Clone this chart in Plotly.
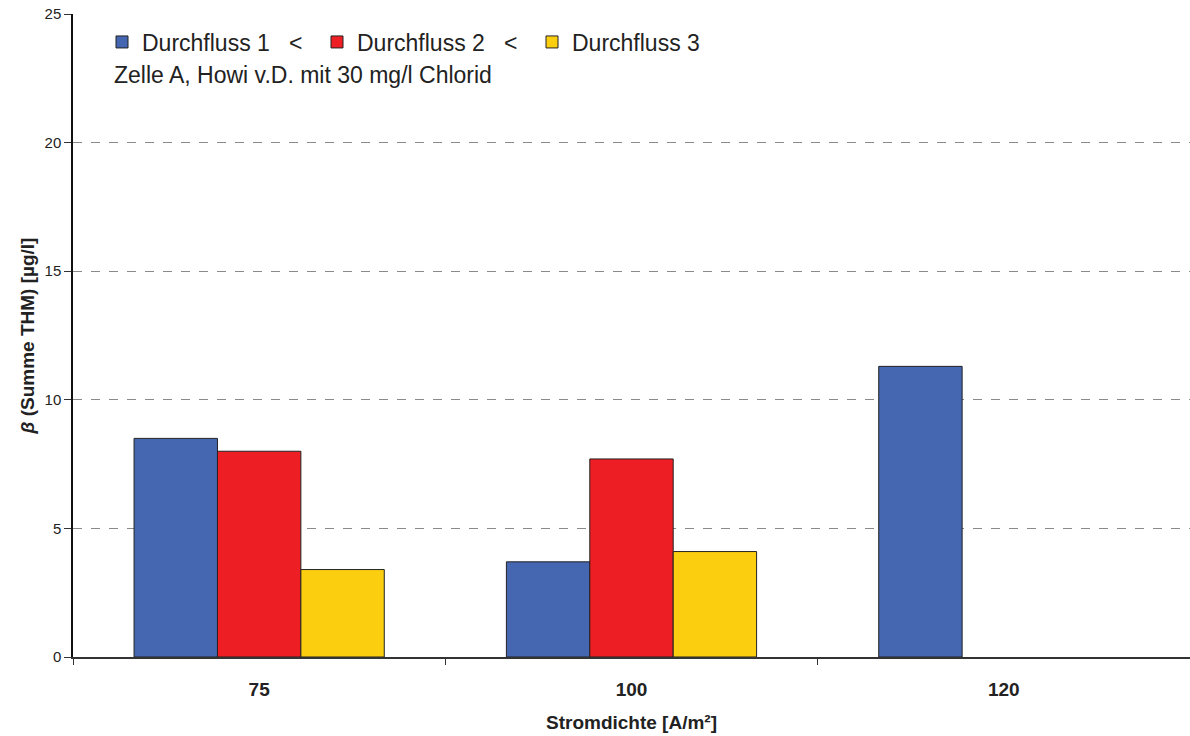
import plotly.graph_objects as go

# Current density categories (A/m²)
categories = ["75", "100", "120"]

# Sum of THM (µg/l) per flow rate
flow_1 = [8.5, 3.7, 11.3]
flow_2 = [8.0, 7.7, None]
flow_3 = [3.4, 4.1, None]

series_names = ["Durchfluss 1   <", "Durchfluss 2   <", "Durchfluss 3"]
series_colors = ["#4566B0", "#EE1F24", "#FCCE10"]

FONT = "Arial, Liberation Sans, sans-serif"

fig = go.Figure()
for name, values, color in zip(series_names, [flow_1, flow_2, flow_3], series_colors):
    fig.add_trace(go.Bar(
        x=categories,
        y=values,
        name=name,
        marker=dict(color=color, line=dict(color="#222222", width=1)),
    ))

fig.add_annotation(
    text="Zelle A, Howi v.D. mit 30 mg/l Chlorid",
    xref="paper", yref="paper",
    x=(112 - 73) / 1117, y=(657 - 75) / 643,
    xanchor="left", yanchor="middle",
    showarrow=False,
    font=dict(family=FONT, size=23, color="#222222"),
)

fig.update_layout(
    width=1190, height=736,
    margin=dict(l=73, r=0, t=14, b=79),
    paper_bgcolor="white",
    plot_bgcolor="white",
    barmode="group",
    bargap=0.328,
    bargroupgap=0,
    font=dict(family=FONT, color="#222222"),
    showlegend=True,
    legend=dict(
        orientation="h",
        x=(102 - 73) / 1117, y=(657 - 42) / 643,
        xanchor="left", yanchor="middle",
        bgcolor="rgba(0,0,0,0)",
        font=dict(family=FONT, size=23, color="#222222"),
        entrywidth=170,
        entrywidthmode="pixels",
        traceorder="normal",
    ),
    xaxis=dict(
        type="category",
        showline=True, linecolor="#333333", linewidth=1.5,
        ticks="outside", tickson="boundaries", ticklen=6, tickcolor="#333333",
        ticklabelstandoff=14,
        tickfont=dict(family=FONT, size=19, color="#222222", weight="bold"),
        title=dict(text="<b>Stromdichte [A/m²]</b>", font=dict(family=FONT, size=19, color="#222222"), standoff=17),
        showgrid=False,
    ),
    yaxis=dict(
        range=[0, 25], dtick=5,
        showline=True, linecolor="#111111", linewidth=1.5,
        ticks="outside", ticklen=7, tickcolor="#333333",
        tickfont=dict(family=FONT, size=15, color="#222222"),
        showgrid=True, gridcolor="#8a8a8a", griddash="dash", gridwidth=1,
        zeroline=False,
        title=dict(text="<b><i>β</i> (Summe THM) [µg/l]</b>", font=dict(family=FONT, size=19, color="#222222"), standoff=5),
    ),
)

fig.write_html("out.html")
